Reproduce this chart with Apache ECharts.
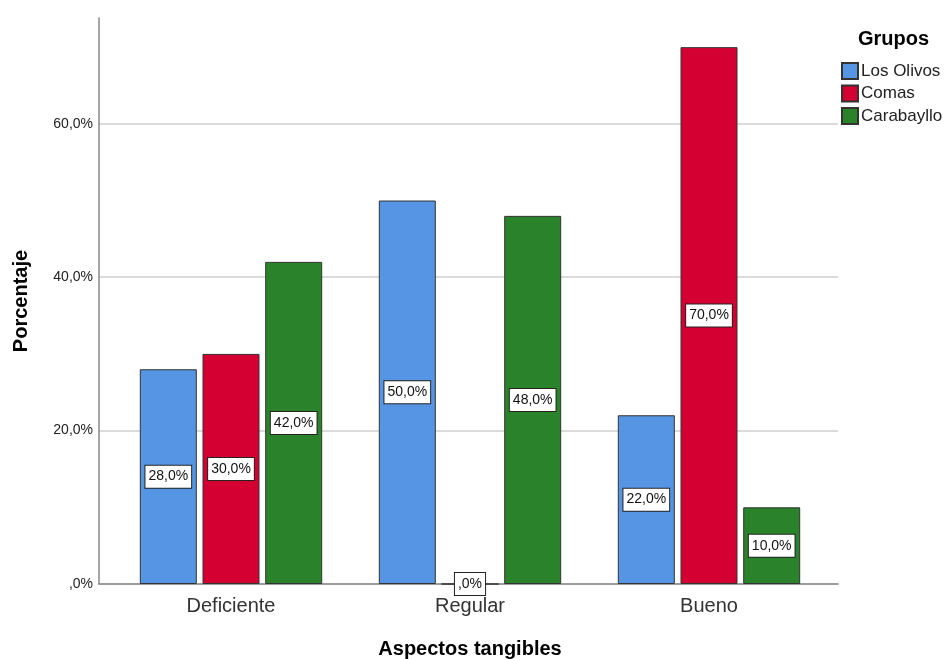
<!DOCTYPE html>
<html>
<head>
<meta charset="utf-8">
<script src="https://cdn.jsdelivr.net/npm/echarts@6/dist/echarts.min.js"></script>
<style>
  html, body { margin: 0; padding: 0; background: #fff; }
  #chart { width: 947px; height: 659px; }
</style>
</head>
<body>
<div id="chart"></div>
<script>
// Aspectos tangibles por grupo (porcentaje)
const categories = ['Deficiente', 'Regular', 'Bueno'];
const groupNames = ['Los Olivos', 'Comas', 'Carabayllo'];
const losOlivos = [28.0, 50.0, 22.0];
const comas = [30.0, 0.0, 70.0];
const carabayllo = [42.0, 48.0, 10.0];
const yTicks = [0, 20, 40, 60];

const colors = ['#5595E3', '#D50032', '#2A822A'];
const yMax = 73.8;

// Spanish-style percent: 28,0%  and  ,0%
function pct(v) {
  const s = v.toFixed(1).replace('.', ',');
  return (s.startsWith('0,') ? s.slice(1) : s) + '%';
}

const FONT = 'Arial, "Liberation Sans", sans-serif';

const seriesData = [losOlivos, comas, carabayllo];
const series = groupNames.map((name, i) => ({
  name: name,
  type: 'bar',
  xAxisIndex: 1,
  yAxisIndex: 1,
  data: seriesData[i],
  barWidth: 57,
  barGap: '10%',
  itemStyle: { color: colors[i], borderColor: '#333333', borderWidth: 1 },
  label: {
    show: true,
    position: 'inside',
    formatter: p => pct(p.value),
    color: '#111',
    fontFamily: FONT,
    fontSize: 14,
    lineHeight: 15,
    backgroundColor: '#ffffff',
    borderColor: '#222',
    borderWidth: 1,
    padding: [4, 3, 3, 3]
  },
  emphasis: { disabled: true }
}));

const chart = echarts.init(document.getElementById('chart'), null, { renderer: 'canvas' });
chart.setOption({
  animation: false,
  title: {
    text: 'Grupos',
    left: 853,
    top: 24,
    textStyle: { fontFamily: FONT, fontSize: 20, fontWeight: 'bold', color: '#000' }
  },
  legend: {
    orient: 'vertical',
    left: 836,
    top: 57,
    itemWidth: 16,
    itemHeight: 16,
    itemGap: 4.5,
    icon: 'rect',
    data: groupNames,
    textStyle: { fontFamily: FONT, fontSize: 17, lineHeight: 16, color: '#222', padding: [0, 0, 0, -2] }
  },
  grid: [
    { left: 99, right: 109, top: 18, bottom: 75, outerBoundsMode: 'none' },
    { left: 111.5, width: 717, top: 18, bottom: 75, outerBoundsMode: 'none' }
  ],
  xAxis: [
    {
      gridIndex: 0, type: 'value', min: 0, max: 1,
      axisLine: { show: true, lineStyle: { color: '#888', width: 1.5 } },
      axisTick: { show: false }, axisLabel: { show: false }, splitLine: { show: false }
    },
    {
      gridIndex: 1, type: 'category', data: categories,
      name: 'Aspectos tangibles', nameLocation: 'middle', nameGap: 55,
      nameTextStyle: { fontFamily: FONT, fontSize: 20, fontWeight: 'bold', color: '#000' },
      axisLine: { show: false }, axisTick: { show: false },
      axisLabel: { fontFamily: FONT, fontSize: 20, color: '#333', margin: 12 }
    }
  ],
  yAxis: [
    {
      gridIndex: 0, type: 'value', min: 0, max: yMax, interval: 20,
      name: 'Porcentaje', nameLocation: 'middle', nameGap: 68, nameRotate: 90,
      nameTextStyle: { fontFamily: FONT, fontSize: 20, fontWeight: 'bold', color: '#000' },
      axisLine: { show: true, lineStyle: { color: '#888', width: 1.5 } },
      axisTick: { show: false },
      axisLabel: {
        fontFamily: FONT, fontSize: 14, color: '#222', margin: 6,
        showMaxLabel: false,
        formatter: v => (yTicks.includes(v) ? pct(v) : '')
      },
      splitLine: { show: true, showMaxLine: false, lineStyle: { color: '#cfcfcf', width: 1.5 } }
    },
    {
      gridIndex: 1, type: 'value', min: 0, max: yMax, show: false,
      splitLine: { show: false }
    }
  ],
  series: series
});
</script>
</body>
</html>
